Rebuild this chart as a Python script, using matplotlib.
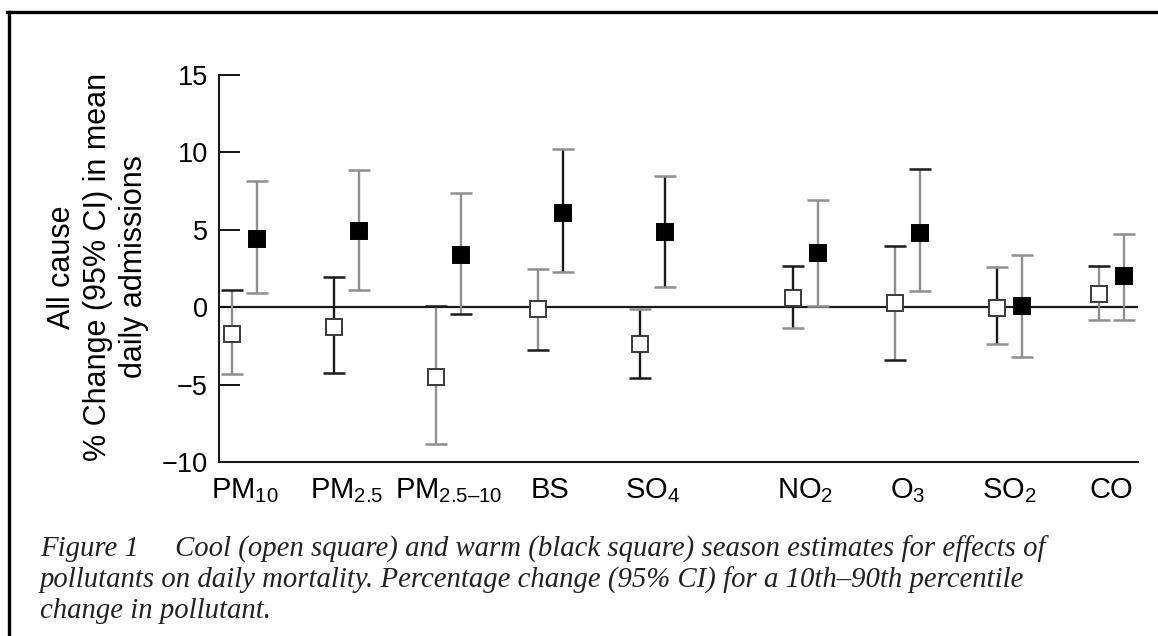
import matplotlib
matplotlib.use("Agg")
import matplotlib.pyplot as plt
from matplotlib.lines import Line2D
import numpy as np

plt.rcParams["font.family"] = ["Liberation Sans", "DejaVu Sans"]
plt.rcParams["mathtext.fontset"] = "custom"
plt.rcParams["mathtext.rm"] = "Liberation Sans"
plt.rcParams["mathtext.it"] = "Liberation Sans"

pollutants = ["PM$_{10}$", "PM$_{2.5}$", "PM$_{2.5\u201310}$", "BS", "SO$_4$",
              "NO$_2$", "O$_3$", "SO$_2$", "CO"]
group_pos = [0, 1, 2, 3, 4, 5.5, 6.5, 7.5, 8.5]

# cool season: estimate, lower CI, upper CI
cool_est = [-1.7, -1.25, -4.5, -0.1, -2.4, 0.6, 0.25, -0.05, 0.85]
cool_lo = [-4.3, -4.25, -8.85, -2.75, -4.55, -1.35, -3.4, -2.35, -0.8]
cool_hi = [1.1, 1.95, 0.05, 2.45, -0.1, 2.65, 3.95, 2.6, 2.65]

# warm season: estimate, lower CI, upper CI
warm_est = [4.4, 4.95, 3.4, 6.1, 4.85, 3.5, 4.8, 0.1, 2.0]
warm_lo = [0.9, 1.1, -0.45, 2.25, 1.3, 0.05, 1.05, -3.25, -0.85]
warm_hi = [8.15, 8.85, 7.35, 10.2, 8.5, 6.9, 8.9, 3.35, 4.75]

GREY = "#8f8f8f"
DARK = "#1a1a1a"
# whisker / cap shades (the print mixes grey and black bars)
cool_stem = [GREY, DARK, GREY, GREY, DARK, DARK, GREY, DARK, GREY]
cool_cap_lo = [GREY, DARK, GREY, DARK, DARK, GREY, DARK, GREY, GREY]
cool_cap_hi = [DARK, DARK, DARK, GREY, GREY, DARK, DARK, GREY, DARK]
warm_stem = [GREY, GREY, GREY, DARK, DARK, GREY, GREY, GREY, GREY]
warm_cap_lo = [GREY, GREY, DARK, GREY, GREY, GREY, GREY, GREY, GREY]
warm_cap_hi = [GREY, GREY, GREY, GREY, GREY, GREY, DARK, GREY, GREY]

fig = plt.figure(figsize=(11.58, 6.36), dpi=100)
ax = fig.add_axes([0.1891, 0.2736, 0.7936, 0.6085])

x_cool = np.array(group_pos)
x_warm = x_cool + 0.25

ax.axhline(0, color=DARK, lw=1.6, zorder=1)

for xs, est, lo, hi, stem, clo, chi, face in [
        (x_cool, cool_est, cool_lo, cool_hi, cool_stem, cool_cap_lo, cool_cap_hi, "white"),
        (x_warm, warm_est, warm_lo, warm_hi, warm_stem, warm_cap_lo, warm_cap_hi, "black")]:
    ax.vlines(xs, lo, hi, colors=stem, lw=1.7, zorder=2)
    ax.scatter(xs, lo, marker="_", s=260, c=clo, linewidths=1.8, zorder=2)
    ax.scatter(xs, hi, marker="_", s=260, c=chi, linewidths=1.8, zorder=2)
    ax.plot(xs, est, ls="none", marker="s", ms=11, mfc=face,
            mec="#3a3a3a" if face == "white" else "black", mew=1.4, zorder=3)

ax.set_xlim(-0.125, 8.885)
ax.set_ylim(-10, 15)
ax.set_yticks([-10, -5, 0, 5, 10, 15])
ax.tick_params(axis="y", direction="in", length=15, width=1.3, labelsize=19.5, pad=8)
ax.set_xticks(x_cool + 0.125)
ax.set_xticklabels(pollutants, fontsize=21)
ax.tick_params(axis="x", length=0, pad=10)

for side in ["top", "right"]:
    ax.spines[side].set_visible(False)
for side in ["left", "bottom"]:
    ax.spines[side].set_linewidth(1.5)
    ax.spines[side].set_color(DARK)

fig.text(98 / 1158, 1 - 267 / 636,
         "All cause\n% Change (95% CI) in mean\ndaily admissions",
         rotation=90, ha="center", va="center", multialignment="center",
         fontsize=22, linespacing=1.25)

caption = ("Figure 1     Cool (open square) and warm (black square) season estimates for effects of\n"
           "pollutants on daily mortality. Percentage change (95% CI) for a 10th\u201390th percentile\n"
           "change in pollutant.")
fig.text(40 / 1158, 1 - 536 / 636, caption, ha="left", va="top",
         family=["Liberation Serif", "DejaVu Serif"], style="italic",
         fontsize=20.7, linespacing=1.17, color="#222222")

# page frame
fig.add_artist(Line2D([8.5 / 1158, 8.5 / 1158], [0, 1 - 11.5 / 636],
                      transform=fig.transFigure, color="black", lw=2.4))
fig.add_artist(Line2D([7.3 / 1158, 1], [1 - 11.5 / 636, 1 - 11.5 / 636],
                      transform=fig.transFigure, color="black", lw=2.4))

fig.savefig("out.png", dpi=100)
